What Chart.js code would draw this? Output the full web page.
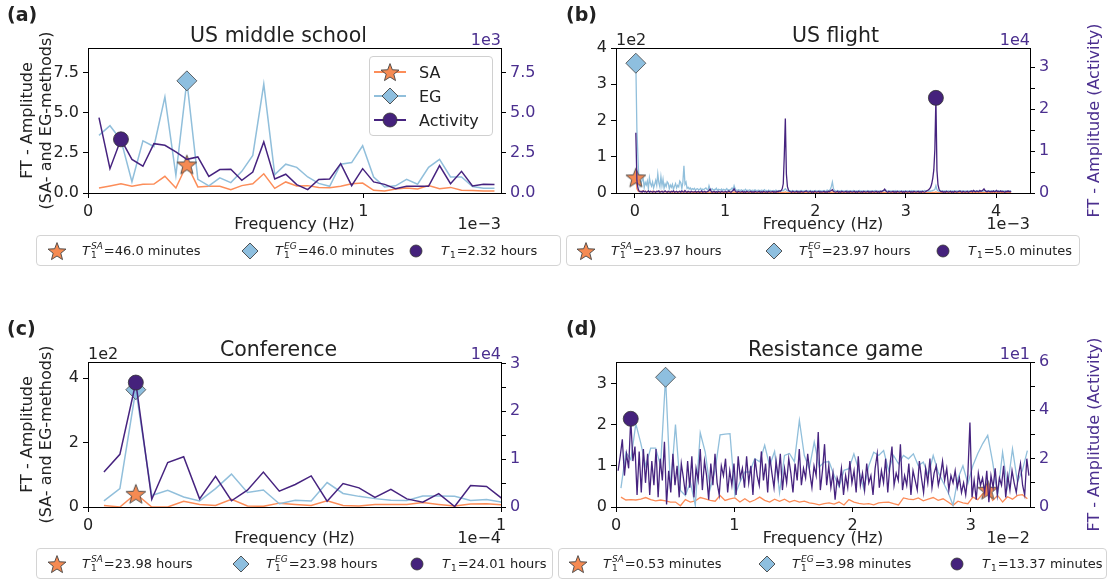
<!DOCTYPE html>
<html><head><meta charset="utf-8">
<script src="https://cdn.jsdelivr.net/npm/chart.js@4.4.1/dist/chart.umd.min.js"></script>
<style>
html,body{margin:0;padding:0;background:#fff}
body{width:1114px;height:583px;position:relative;overflow:hidden;font-family:"DejaVu Sans",sans-serif;color:#222}
canvas{position:absolute}
.plab{position:absolute;font-size:19px;font-weight:bold;color:#222}
.blg{position:absolute;box-sizing:border-box;border:1px solid #d4d4d4;border-radius:4px;background:#fff;font-size:13px;height:31px}
.bit{position:absolute;top:0;height:100%;display:flex;align-items:center;white-space:nowrap}
.bmk{position:absolute;top:50%;transform:translate(-50%,-50%);display:block;line-height:0}
.T{font-style:italic}
.st{display:inline-flex;flex-direction:column;vertical-align:-5px;font-size:9px;line-height:9px;margin:0 1px}
.st .sp{font-style:italic}
.sb1{font-size:9px;position:relative;top:4px;margin:0 1px}
#ilg{position:absolute;left:369px;top:56px;width:124px;height:80px;box-sizing:border-box;border:1px solid #d0d0d0;border-radius:4px;background:rgba(255,255,255,0.85);font-size:16px}
#ilg .row{position:absolute;left:3px;height:22px;display:flex;align-items:center}
</style>
</head><body>
<canvas id="ca" width="557" height="236" style="left:0;top:0"></canvas>
<canvas id="cb" width="557" height="236" style="left:557px;top:0"></canvas>
<canvas id="cc" width="557" height="236" style="left:0;top:314px"></canvas>
<canvas id="cd" width="557" height="236" style="left:557px;top:314px"></canvas>
<div class="plab" style="left:7px;top:3px">(a)</div>
<div class="plab" style="left:566px;top:3px">(b)</div>
<div class="plab" style="left:7px;top:317px">(c)</div>
<div class="plab" style="left:566px;top:317px">(d)</div>
<div id="ilg"></div>
<div id="legs"></div>
<script>
// ---------------- DATA ----------------
const titles = ['US middle school', 'US flight', 'Conference', 'Resistance game'];
const seriesNames = ['SA', 'EG', 'Activity'];
// periods shown in the legends below each panel
const periodsSA  = ['46.0 minutes', '23.97 hours', '23.98 hours', '0.53 minutes'];
const periodsEG  = ['46.0 minutes', '23.97 hours', '23.98 hours', '3.98 minutes'];
const periodsAct = ['2.32 hours', '5.0 minutes', '24.01 hours', '13.37 minutes'];
// frequency resolution of each spectrum (in axis units: 1e-3, 1e-3, 1e-4, 1e-2 Hz)
const dfA = 0.0399, dfB = 0.011574, dfC = 0.0386, dfD_SAEG = 0.0419, dfD_Act = 0.01781;

// (a) US middle school  (SA/EG in units, Activity in 1e3)
const saA  = [0.31,0.44,0.58,0.42,0.54,0.56,1.04,0.31,1.78,0.38,0.42,0.42,0.21,0.46,0.58,1.2,0.29,0.69,0.44,0.46,0.35,0.33,0.42,0.58,0.62,0.17,0.12,0.25,0.31,0.25,0.46,0.27,0.35,0.17,0.15,0.12,0.12];
const egA  = [3.6,4.2,3.3,0.7,3.25,2.9,6.0,1.1,7.0,0.85,0.45,0.95,0.65,1.35,2.35,6.8,1.15,1.8,1.6,1.0,0.6,0.42,1.8,1.9,2.95,1.0,0.38,0.45,0.85,0.55,1.6,2.1,1.0,1.0,0.4,0.3,0.3];
const actA = [4.7,1.52,3.35,2.1,1.67,3.08,2.98,2.56,2.1,2.25,1.04,1.46,1.48,0.79,1.31,3.19,0.88,1.17,0.52,0.21,0.85,0.88,1.83,0.46,1.52,0.69,0.54,0.27,0.42,0.42,0.42,1.71,0.58,1.35,0.44,0.55,0.53];

// (b) US flight  (SA/EG in 1e2, Activity in 1e4)
const saB = [0.43,0.12,0.06,0.04,0.05,0.03,0.04,0.06,0.03,0.05,0.04,0.03,0.05,0.04,0.03,0.04,0.05,0.03,0.04,0.03,
0.04,0.05,0.03,0.04,0.03,0.05,0.04,0.03,0.04,0.03,0.04,0.03,0.02,0.04,0.03,0.02,0.03,0.04,0.02,0.03,
0.03,0.02,0.04,0.03,0.02,0.03,0.05,0.03,0.02,0.03,0.02,0.03,0.02,0.03,0.02,0.03,0.02,0.02,0.03,0.02,
0.02,0.03,0.02,0.02,0.03,0.02,0.02,0.03,0.02,0.02,0.03,0.02,0.02,0.03,0.02,0.02,0.02,0.03,0.02,0.02,
0.02,0.02,0.03,0.02,0.02,0.02,0.02,0.03,0.02,0.02,0.02,0.02,0.03,0.02,0.03,0.02,0.02,0.02,0.02,0.02,
0.02,0.02,0.01,0.02,0.02,0.02,0.01,0.02,0.02,0.02,0.01,0.02,0.02,0.01,0.02,0.02,0.01,0.02,0.02,0.01,
0.02,0.02,0.01,0.02,0.01,0.02,0.01,0.02,0.01,0.02,0.01,0.01,0.02,0.01,0.02,0.01,0.01,0.02,0.01,0.02,
0.02,0.02,0.02,0.03,0.02,0.01,0.01,0.02,0.01,0.01,0.02,0.01,0.01,0.02,0.01,0.01,0.02,0.01,0.01,0.02,
0.01,0.01,0.02,0.01,0.01,0.02,0.01,0.01,0.02,0.01,0.01,0.02,0.01,0.01,0.02,0.01,0.01,0.02,0.01,0.01,
0.02,0.01,0.01,0.02,0.01,0.01,0.02,0.02,0.03,0.02,0.01,0.01,0.02,0.01,0.01,0.02,0.01,0.01,0.02,0.01,
0.01,0.02,0.01,0.01,0.02,0.01,0.01,0.02,0.01,0.01,0.02,0.01,0.01,0.02,0.01,0.01,0.02,0.01,0.01,0.02,
0.01,0.01,0.02,0.01,0.01,0.02,0.01,0.01,0.02,0.01,0.01,0.02,0.01,0.01,0.02,0.01,0.01,0.02,0.01,0.02,
0.01,0.01,0.02,0.01,0.01,0.02,0.01,0.01,0.02,0.01,0.01,0.02,0.01,0.01,0.02,0.01,0.01,0.02,0.01,0.01,
0.02,0.01,0.01,0.02,0.01,0.01,0.02,0.01,0.01,0.02,0.01,0.01,0.02,0.01,0.01,0.02,0.01,0.01,0.02,0.01,
0.01,0.02,0.01,0.01,0.02,0.01,0.02,0.03,0.02,0.01,0.01,0.02,0.01,0.01,0.02,0.01,0.01,0.02,0.01,0.01,
0.02,0.01,0.01,0.02,0.01,0.01,0.02,0.01,0.01,0.02,0.01,0.01,0.02,0.01,0.01,0.02,0.01,0.01,0.02,0.01,
0.01,0.02,0.01,0.01,0.02,0.01,0.01,0.02,0.01,0.01,0.02,0.01,0.01,0.02,0.01,0.01,0.02,0.01,0.01,0.02,
0.01,0.01,0.02,0.01,0.01,0.02,0.01,0.01,0.02,0.01,0.01,0.02,0.01,0.01,0.02,0.01,0.01,0.02,0.01,0.01];
const egB = [3.58,1.76,1.0,0.32,0.18,0.27,0.36,0.40,0.15,0.29,0.22,0.33,0.12,0.42,0.26,0.19,0.30,0.14,0.24,0.35,
0.21,0.53,0.28,0.17,0.45,0.20,0.38,0.13,0.25,0.18,0.31,0.27,0.12,0.22,0.16,0.24,0.10,0.19,0.26,0.14,
0.21,0.17,0.33,0.28,0.12,0.30,0.75,0.24,0.30,0.13,0.16,0.11,0.14,0.09,0.12,0.10,0.13,0.08,0.11,0.12,
0.09,0.10,0.13,0.08,0.11,0.09,0.12,0.14,0.10,0.08,0.20,0.11,0.09,0.12,0.08,0.10,0.09,0.13,0.07,0.10,
0.09,0.08,0.11,0.07,0.10,0.08,0.09,0.12,0.07,0.09,0.08,0.10,0.14,0.09,0.20,0.12,0.08,0.07,0.09,0.08,
0.07,0.09,0.06,0.08,0.07,0.10,0.06,0.08,0.07,0.09,0.06,0.07,0.08,0.06,0.09,0.07,0.06,0.08,0.07,0.06,
0.08,0.07,0.06,0.09,0.06,0.07,0.05,0.08,0.06,0.07,0.06,0.05,0.07,0.06,0.08,0.05,0.06,0.07,0.05,0.06,
0.07,0.06,0.09,0.12,0.08,0.06,0.05,0.07,0.06,0.05,0.07,0.06,0.05,0.06,0.07,0.05,0.06,0.05,0.07,0.06,
0.05,0.06,0.05,0.07,0.06,0.05,0.06,0.07,0.05,0.06,0.05,0.06,0.07,0.05,0.06,0.05,0.07,0.06,0.05,0.06,
0.07,0.05,0.06,0.08,0.06,0.07,0.10,0.18,0.30,0.12,0.07,0.06,0.05,0.07,0.06,0.05,0.06,0.07,0.05,0.06,
0.05,0.06,0.07,0.05,0.06,0.05,0.06,0.05,0.07,0.06,0.05,0.06,0.05,0.06,0.07,0.05,0.06,0.05,0.06,0.05,
0.06,0.05,0.07,0.05,0.06,0.05,0.06,0.05,0.06,0.07,0.05,0.06,0.05,0.06,0.05,0.06,0.05,0.07,0.06,0.08,
0.06,0.05,0.06,0.05,0.06,0.05,0.06,0.05,0.07,0.05,0.06,0.05,0.06,0.05,0.06,0.05,0.06,0.05,0.06,0.05,
0.06,0.05,0.06,0.05,0.07,0.05,0.06,0.05,0.06,0.05,0.06,0.05,0.06,0.05,0.06,0.05,0.07,0.06,0.05,0.06,
0.05,0.06,0.05,0.06,0.07,0.08,0.10,0.20,0.09,0.06,0.05,0.06,0.05,0.06,0.05,0.06,0.05,0.06,0.05,0.06,
0.05,0.06,0.05,0.06,0.05,0.06,0.05,0.06,0.05,0.06,0.05,0.06,0.05,0.06,0.05,0.06,0.05,0.06,0.05,0.06,
0.05,0.06,0.05,0.06,0.05,0.06,0.05,0.06,0.05,0.06,0.05,0.06,0.05,0.06,0.07,0.06,0.05,0.06,0.05,0.06,
0.05,0.06,0.05,0.06,0.05,0.06,0.05,0.06,0.05,0.06,0.05,0.06,0.05,0.06,0.05,0.06,0.05,0.06,0.05,0.06];
const actB = [1.44,0.30,0.12,0.05,0.03,0.04,0.02,0.05,0.03,0.04,0.02,0.03,0.05,0.02,0.04,0.03,0.02,0.04,0.03,0.02,
0.04,0.03,0.05,0.02,0.03,0.04,0.02,0.03,0.05,0.03,0.02,0.04,0.03,0.02,0.04,0.03,0.05,0.02,0.03,0.04,
0.02,0.03,0.04,0.02,0.05,0.03,0.02,0.06,0.03,0.02,0.04,0.03,0.02,0.04,0.03,0.02,0.03,0.04,0.02,0.03,
0.04,0.02,0.03,0.05,0.02,0.03,0.04,0.02,0.03,0.04,0.06,0.09,0.04,0.02,0.03,0.04,0.02,0.03,0.02,0.04,
0.03,0.02,0.04,0.03,0.02,0.03,0.04,0.02,0.03,0.05,0.03,0.02,0.04,0.06,0.10,0.05,0.03,0.02,0.04,0.03,
0.02,0.03,0.04,0.02,0.03,0.02,0.04,0.03,0.02,0.03,0.04,0.02,0.03,0.02,0.04,0.03,0.02,0.03,0.04,0.02,
0.03,0.02,0.04,0.03,0.02,0.03,0.02,0.04,0.03,0.02,0.03,0.04,0.02,0.03,0.02,0.04,0.03,0.05,0.04,0.06,
0.10,0.22,0.90,1.78,0.45,0.15,0.07,0.04,0.03,0.02,0.04,0.03,0.02,0.03,0.04,0.02,0.03,0.02,0.04,0.03,
0.02,0.03,0.04,0.05,0.03,0.02,0.03,0.04,0.02,0.03,0.02,0.04,0.03,0.02,0.03,0.04,0.02,0.03,0.02,0.03,
0.04,0.02,0.03,0.02,0.04,0.03,0.05,0.06,0.08,0.04,0.03,0.02,0.03,0.04,0.02,0.03,0.02,0.04,0.03,0.02,
0.03,0.04,0.02,0.03,0.02,0.04,0.03,0.02,0.03,0.04,0.02,0.03,0.02,0.04,0.03,0.02,0.03,0.02,0.04,0.03,
0.02,0.03,0.04,0.02,0.03,0.02,0.04,0.03,0.02,0.03,0.04,0.02,0.03,0.02,0.04,0.03,0.05,0.06,0.09,0.05,
0.03,0.02,0.04,0.03,0.02,0.03,0.04,0.02,0.03,0.02,0.04,0.03,0.02,0.03,0.04,0.02,0.03,0.02,0.04,0.03,
0.02,0.03,0.04,0.02,0.03,0.02,0.04,0.03,0.02,0.03,0.04,0.02,0.03,0.02,0.04,0.03,0.02,0.03,0.05,0.06,
0.08,0.10,0.14,0.22,0.35,0.55,1.04,2.27,0.54,0.20,0.09,0.05,0.03,0.04,0.02,0.03,0.02,0.04,0.03,0.02,
0.03,0.04,0.02,0.03,0.02,0.04,0.03,0.02,0.03,0.04,0.05,0.03,0.02,0.04,0.03,0.02,0.03,0.04,0.02,0.03,
0.04,0.05,0.03,0.06,0.04,0.03,0.05,0.04,0.03,0.06,0.04,0.05,0.07,0.10,0.06,0.04,0.03,0.05,0.04,0.03,
0.04,0.03,0.05,0.03,0.04,0.06,0.03,0.04,0.03,0.05,0.03,0.04,0.03,0.02,0.04,0.03,0.05,0.03,0.04,0.03];

// (c) Conference (SA/EG in 1e2, Activity in 1e4)
const saC  = [0.05,0.0,0.41,0.0,0.0,0.18,0.08,0.05,0.24,0.03,0.02,0.12,0.08,0.05,0.19,0.05,0.03,0.08,0.08,0.08,0.14,0.08,0.03,0.09,0.10,0.07];
const egC  = [0.19,0.57,3.64,0.36,0.52,0.31,0.19,0.57,1.02,0.45,0.53,0.10,0.21,0.19,0.76,0.42,0.33,0.26,0.21,0.20,0.34,0.34,0.33,0.20,0.23,0.15];
const actC = [0.73,1.10,2.60,0.16,0.93,1.05,0.17,0.64,0.13,0.35,0.73,0.33,0.47,0.65,0.12,0.49,0.40,0.20,0.37,0.17,0.10,0.28,0.01,0.45,0.43,0.17];

// (d) Resistance game (SA/EG in units, Activity in 1e1)
const saD = [0.24,0.17,0.18,0.17,0.19,0.23,0.18,0.15,0.17,0.15,0.12,0.12,0.03,0.18,0.12,0.15,0.23,0.20,0.16,0.14,
0.28,0.16,0.20,0.22,0.12,0.20,0.12,0.17,0.24,0.16,0.12,0.19,0.14,0.19,0.12,0.16,0.12,0.14,0.10,0.08,
0.05,0.08,0.10,0.07,0.12,0.05,0.18,0.12,0.09,0.07,0.08,0.05,0.10,0.11,0.12,0.08,0.05,0.22,0.19,0.18,
0.22,0.15,0.19,0.23,0.16,0.20,0.12,0.04,0.14,0.10,0.08,0.24,0.18,0.32,0.42,0.16,0.28,0.12,0.25,0.19,
0.28,0.30,0.20];
const egD = [0.46,1.33,1.15,2.02,1.55,1.0,1.43,1.43,1.0,3.15,0.44,2.0,0.4,0.28,0.6,0.04,1.8,1.33,0.44,0.9,
1.75,1.77,1.78,0.28,0.6,0.85,0.85,1.17,1.1,1.5,1.0,1.35,0.35,1.25,1.3,1.1,2.1,1.25,0.93,1.58,
0.97,1.09,1.1,0.77,0.49,0.89,0.93,1.29,0.89,0.44,1.0,1.33,1.25,1.37,0.89,1.25,1.05,1.25,1.17,1.29,
1.0,1.09,0.77,1.25,0.85,0.6,0.36,0.04,0.7,1.0,0.57,1.0,1.3,1.54,1.74,1.09,0.28,1.33,0.49,1.41,
0.61,0.89,1.37];
const actD = [1.5,2.1,2.8,1.3,2.2,1.6,3.65,1.9,2.5,0.5,2.3,0.6,2.4,1.0,2.2,0.5,1.9,0.9,2.4,0.4,
2.0,1.1,2.7,0.1,1.5,0.6,2.2,0.9,1.7,0.4,1.8,1.2,0.5,1.9,0.8,2.1,0.4,1.6,1.1,2.4,
0.7,1.9,1.3,0.3,1.8,0.9,2.2,1.0,0.5,1.7,1.3,2.0,0.6,1.5,0.9,1.8,0.5,2.1,1.2,1.6,
0.8,2.1,1.0,1.7,0.5,2.0,1.3,0.9,2.3,1.1,1.8,0.6,2.1,1.4,0.8,1.9,1.2,2.2,0.7,1.6,
1.0,2.0,1.4,0.6,1.8,1.1,2.4,0.9,1.6,1.2,2.2,1.4,0.8,1.7,1.3,3.1,0.7,1.5,2.6,0.9,
1.7,0.8,1.4,0.3,1.2,0.9,1.6,0.5,1.3,0.8,1.9,1.0,1.5,0.6,2.1,0.9,1.4,0.7,1.8,1.0,
1.3,0.5,1.6,2.2,0.8,1.5,1.0,2.0,0.6,1.7,2.5,0.9,1.4,1.1,2.6,0.7,1.3,0.9,1.8,0.5,
1.5,1.1,0.7,1.9,1.2,0.6,1.6,1.0,2.0,0.8,1.4,1.7,0.9,1.3,1.9,1.1,1.6,0.7,1.3,1.0,
1.5,0.8,1.2,0.6,1.0,0.5,1.3,3.5,0.4,1.1,0.3,1.4,0.9,1.2,0.6,1.5,0.2,1.3,0.8,1.6,
0.5,1.2,0.9,1.7,0.4,1.3,0.7,1.5,1.0,0.6,1.3,1.8,0.9,0.5,2.0,1.3];

// axis ticks
const xTicksA = [0, 1], xTicksB = [0, 1, 2, 3, 4], xTicksC = [0, 1], xTicksD = [0, 1, 2, 3];
const yTicksA = [0, 2.5, 5, 7.5], yTicksB = [0, 1, 2, 3, 4], yTicksC = [0, 2, 4], yTicksD = [0, 1, 2, 3];
const y2TicksA = [0, 2.5, 5, 7.5], y2TicksB = [0, 0.5, 1, 1.5, 2, 2.5, 3], y2TicksC = [0, 0.5, 1, 1.5, 2, 2.5, 3], y2TicksD = [0, 1, 2, 3, 4, 5, 6];

// ---------------- STYLE / HELPERS ----------------
const FONT = '"DejaVu Sans", sans-serif';
const TXT = '#222';
const PTXT = '#4b2f8f';
const C_SA = '#fc8d59', C_EG = '#91bfdb', C_ACT = '#46237f';
const M_SA = '#f58a52', M_EG = '#8ebfdf', M_ACT = '#45227c';

function grid(df, n) { return Array.from({length: n}, (_, i) => (i + 1) * df); }
function pts(fr, v) { return v.map((y, i) => ({x: fr[i], y})); }
function periodSec(s) { const [n, u] = s.split(' '); return parseFloat(n) * (u.startsWith('hour') ? 3600 : 60); }
function peakPoint(periodStr, unit, df, fr, vals) {
  const f = 1 / periodSec(periodStr) / unit;
  const i = Math.max(0, Math.min(vals.length - 1, Math.round(f / df) - 1));
  return [{x: fr[i], y: vals[i]}];
}
function starCanvas(size) {
  const c = document.createElement('canvas'); c.width = c.height = size;
  const g = c.getContext('2d'); g.beginPath();
  for (let i = 0; i < 10; i++) {
    const r = i % 2 ? size * 0.2 : size * 0.47;
    const a = -Math.PI / 2 + i * Math.PI / 5;
    g.lineTo(size / 2 + r * Math.cos(a), size / 2 + 1 + r * Math.sin(a));
  }
  g.closePath(); g.fillStyle = M_SA; g.fill(); g.strokeStyle = '#444'; g.lineWidth = 0.9; g.stroke();
  return c;
}
const STAR = starCanvas(22);

const deco = {
  id: 'deco',
  afterDraw(chart, args, o) {
    const {ctx, chartArea: a} = chart;
    ctx.save();
    ctx.strokeStyle = '#000'; ctx.lineWidth = 1;
    ctx.beginPath(); ctx.moveTo(Math.round(a.left), Math.round(a.top) + 0.5); ctx.lineTo(Math.round(a.right) + 1, Math.round(a.top) + 0.5); ctx.stroke();
    ctx.font = '16px ' + FONT; ctx.textBaseline = 'alphabetic';
    if (o.offTL) { ctx.fillStyle = TXT; ctx.textAlign = 'left'; ctx.fillText(o.offTL, a.left, a.top - 3); }
    if (o.offTR) { ctx.fillStyle = PTXT; ctx.textAlign = 'right'; ctx.fillText(o.offTR, a.right, a.top - 3); }
    if (o.offX) { ctx.fillStyle = TXT; ctx.textAlign = 'right'; ctx.textBaseline = 'middle'; ctx.fillText(o.offX, a.right, chart.scales.x.bottom - 2 - 9.6); }
    if (o.rTitle) {
      ctx.fillStyle = PTXT; ctx.textAlign = 'center'; ctx.textBaseline = 'middle';
      ctx.translate(a.right + 65, (a.top + a.bottom) / 2); ctx.rotate(-Math.PI / 2);
      ctx.fillText(o.rTitle, 0, 0);
    }
    ctx.restore();
  }
};

function fmt(v, dec) { return dec ? v.toFixed(1) : String(Math.round(v)); }

function makePanel(p) {
  const lw = p.lw || 1.5;
  const ds = [
    {data: p.mkAct, yAxisID: 'y2', showLine: false, pointStyle: 'circle', pointRadius: 7.5, pointBackgroundColor: M_ACT, pointBorderColor: '#333', pointBorderWidth: 0.8, clip: false, order: 0},
    {data: p.act, yAxisID: 'y2', borderColor: C_ACT, borderWidth: lw, pointRadius: 0, fill: false, tension: 0, order: 1},
    {data: p.mkEG, yAxisID: 'y', showLine: false, pointStyle: 'rectRot', pointRadius: 10, pointBackgroundColor: M_EG, pointBorderColor: '#444', pointBorderWidth: 0.8, clip: false, order: 2},
    {data: p.mkSA, yAxisID: 'y', showLine: false, pointStyle: STAR, pointRadius: 10, clip: false, order: 3},
    {data: p.eg, yAxisID: 'y', borderColor: C_EG, borderWidth: lw, pointRadius: 0, fill: false, tension: 0, order: 4},
    {data: p.sa, yAxisID: 'y', borderColor: C_SA, borderWidth: lw, pointRadius: 0, fill: false, tension: 0, order: 5}
  ];
  const tickFont = {family: FONT, size: 16};
  const axisCommon = () => ({
    grid: {display: true, drawOnChartArea: false, drawTicks: true, tickLength: 5, color: '#000', lineWidth: 1},
    border: {display: true, color: '#000', width: 1}
  });
  new Chart(document.getElementById(p.id), {
    type: 'line',
    data: {datasets: ds},
    options: {
      responsive: false, animation: false, devicePixelRatio: 1,
      layout: {padding: 0},
      events: [],
      plugins: {
        legend: {display: false}, tooltip: {enabled: false},
        title: {display: true, text: p.title, color: TXT, font: {family: FONT, size: 20.5, weight: 'normal', lineHeight: 1.0}, padding: {top: 26.75, bottom: 0.75}},
        deco: {offTL: p.offTL, offTR: p.offTR, offX: p.offX, rTitle: p.rTitle}
      },
      scales: {
        x: Object.assign(axisCommon(), {
          type: 'linear', position: 'bottom', min: p.xMin, max: p.xMax,
          afterBuildTicks: s => { s.ticks = p.xTicks.map(v => ({value: v})); },
          ticks: {font: tickFont, color: TXT, padding: 4, maxRotation: 0, autoSkip: false, callback: v => fmt(v, false)},
          title: {display: true, text: 'Frequency (Hz)', color: TXT, font: {family: FONT, size: 16, lineHeight: 1.2}, padding: {top: 0, bottom: 2}},
          afterFit: s => { s.height = 43; }
        }),
        y: Object.assign(axisCommon(), {
          type: 'linear', position: 'left', min: 0, max: p.yMax,
          afterBuildTicks: s => { s.ticks = p.yTicks.map(v => ({value: v})); },
          ticks: {font: tickFont, color: TXT, padding: 4, autoSkip: false, callback: v => fmt(v, p.dec)},
          title: {display: !!p.lTitle, text: p.lTitle || '', color: TXT, font: {family: FONT, size: 16, lineHeight: 1.15}, padding: {top: 19, bottom: 0}},
          afterFit: s => { s.width = p.lw0; }
        }),
        y2: Object.assign(axisCommon(), {
          type: 'linear', position: 'right', min: 0, max: p.y2Max,
          afterBuildTicks: s => { s.ticks = p.y2Ticks.map(v => ({value: v})); },
          ticks: {font: tickFont, color: PTXT, padding: 4, autoSkip: false, callback: v => (p.y2Lab.includes(v) ? fmt(v, p.dec) : '')},
          afterFit: s => { s.width = p.rw0; }
        })
      }
    },
    plugins: [deco]
  });
}

// ---------------- BUILD PANELS ----------------
const frA = grid(dfA, actA.length), frB = grid(dfB, actB.length), frC = grid(dfC, actC.length);
const frDs = grid(dfD_SAEG, egD.length), frDa = grid(dfD_Act, actD.length);
const units = [1e-3, 1e-3, 1e-4, 1e-2];
const LT = ['FT - Amplitude', '(SA- and EG-methods)'];
const RT = 'FT - Amplitude (Activity)';

makePanel({id: 'ca', title: titles[0], sa: pts(frA, saA), eg: pts(frA, egA), act: pts(frA, actA),
  mkSA: peakPoint(periodsSA[0], units[0], dfA, frA, saA), mkEG: peakPoint(periodsEG[0], units[0], dfA, frA, egA), mkAct: peakPoint(periodsAct[0], units[0], dfA, frA, actA),
  xMin: 0, xMax: 1.5, xTicks: xTicksA, yMax: 9.05, yTicks: yTicksA, y2Max: 9.05, y2Ticks: y2TicksA, y2Lab: y2TicksA, dec: true,
  offTR: '1e3', offX: '1e\u22123', lTitle: LT, lw0: 88, rw0: 56});
makePanel({id: 'cb', title: titles[1], sa: pts(frB, saB), eg: pts(frB, egB), act: pts(frB, actB), lw: 1.3,
  mkSA: peakPoint(periodsSA[1], units[1], dfB, frB, saB), mkEG: peakPoint(periodsEG[1], units[1], dfB, frB, egB), mkAct: peakPoint(periodsAct[1], units[1], dfB, frB, actB),
  xMin: -0.208, xMax: 4.375, xTicks: xTicksB, yMax: 4, yTicks: yTicksB, y2Max: 3.46, y2Ticks: y2TicksB, y2Lab: [0, 1, 2, 3], dec: false,
  offTL: '1e2', offTR: '1e4', offX: '1e\u22123', rTitle: RT, lw0: 59, rw0: 84});
makePanel({id: 'cc', title: titles[2], sa: pts(frC, saC), eg: pts(frC, egC), act: pts(frC, actC),
  mkSA: peakPoint(periodsSA[2], units[2], dfC, frC, saC), mkEG: peakPoint(periodsEG[2], units[2], dfC, frC, egC), mkAct: peakPoint(periodsAct[2], units[2], dfC, frC, actC),
  xMin: 0, xMax: 1, xTicks: xTicksC, yMax: 4.5, yTicks: yTicksC, y2Max: 3.03, y2Ticks: y2TicksC, y2Lab: [0, 1, 2, 3], dec: false,
  offTL: '1e2', offTR: '1e4', offX: '1e\u22124', lTitle: LT, lw0: 88, rw0: 56});
makePanel({id: 'cd', title: titles[3], sa: pts(frDs, saD), eg: pts(frDs, egD), act: pts(frDa, actD), lw: 1.3,
  mkSA: peakPoint(periodsSA[3], units[3], dfD_SAEG, frDs, saD), mkEG: peakPoint(periodsEG[3], units[3], dfD_SAEG, frDs, egD), mkAct: peakPoint(periodsAct[3], units[3], dfD_Act, frDa, actD),
  xMin: 0, xMax: 3.5, xTicks: xTicksD, yMax: 3.52, yTicks: yTicksD, y2Max: 6, y2Ticks: y2TicksD, y2Lab: [0, 2, 4, 6], dec: false,
  offTR: '1e1', offX: '1e\u22122', rTitle: RT, lw0: 59, rw0: 84});

// ---------------- LEGENDS (HTML) ----------------
const SVG_STAR = (s) => { let p = []; for (let i = 0; i < 10; i++) { const r = i % 2 ? s * 0.2 : s * 0.47; const a = -Math.PI / 2 + i * Math.PI / 5; p.push((s / 2 + r * Math.cos(a)).toFixed(2) + ',' + (s / 2 + 1 + r * Math.sin(a)).toFixed(2)); } return `<svg width="${s}" height="${s}"><polygon points="${p.join(' ')}" fill="${M_SA}" stroke="#444" stroke-width="0.9"/></svg>`; };
const SVG_DIA = (s) => `<svg width="${s}" height="${s}"><polygon points="${s/2},1 ${s-1},${s/2} ${s/2},${s-1} 1,${s/2}" fill="${M_EG}" stroke="#444" stroke-width="0.9"/></svg>`;
const SVG_CIR = (s) => `<svg width="${s}" height="${s}"><circle cx="${s/2}" cy="${s/2}" r="${s/2-1}" fill="${M_ACT}" stroke="#333" stroke-width="0.8"/></svg>`;

// inner legend of panel (a)
(function () {
  const el = document.getElementById('ilg');
  const mk = [SVG_STAR(20), SVG_DIA(18), SVG_CIR(16)];
  const col = [C_SA, C_EG, C_ACT];
  const tops = [4, 28, 52];
  el.innerHTML = seriesNames.map((n, i) => `<div class="row" style="top:${tops[i]}px"><span style="position:relative;width:34px;height:22px;display:inline-block;margin-right:12px"><svg width="34" height="22" style="position:absolute;left:0;top:0"><line x1="1" y1="11" x2="33" y2="11" stroke="${col[i]}" stroke-width="2"/></svg><span style="position:absolute;left:17px;top:11px;transform:translate(-50%,-50%);line-height:0">${mk[i]}</span></span>${n}</div>`).join('');
})();

// bottom legends
const legBoxes = [
  {left: 36, top: 235, width: 525, items: [20, 213, 379]},
  {left: 566, top: 235, width: 514, items: [19, 207, 376]},
  {left: 36, top: 548, width: 517, items: [20, 204, 380]},
  {left: 558, top: 548, width: 549, items: [19, 208, 398]}
];
(function () {
  let html = '';
  legBoxes.forEach((b, k) => {
    const labels = [
      `<span class="T">T</span><span class="st"><span class="sp">SA</span><span>1</span></span>=${periodsSA[k]}`,
      `<span class="T">T</span><span class="st"><span class="sp">EG</span><span>1</span></span>=${periodsEG[k]}`,
      `<span class="T">T</span><span class="sb1">1</span>=${periodsAct[k]}`
    ];
    const mks = [SVG_STAR(20), SVG_DIA(18), SVG_CIR(14)];
    html += `<div class="blg" style="left:${b.left}px;top:${b.top}px;width:${b.width}px">`;
    b.items.forEach((x, i) => {
      html += `<span class="bmk" style="left:${x}px">${mks[i]}</span><span class="bit" style="left:${x + 25}px">${labels[i]}</span>`;
    });
    html += '</div>';
  });
  document.getElementById('legs').innerHTML = html;
})();
</script>
</body></html>
